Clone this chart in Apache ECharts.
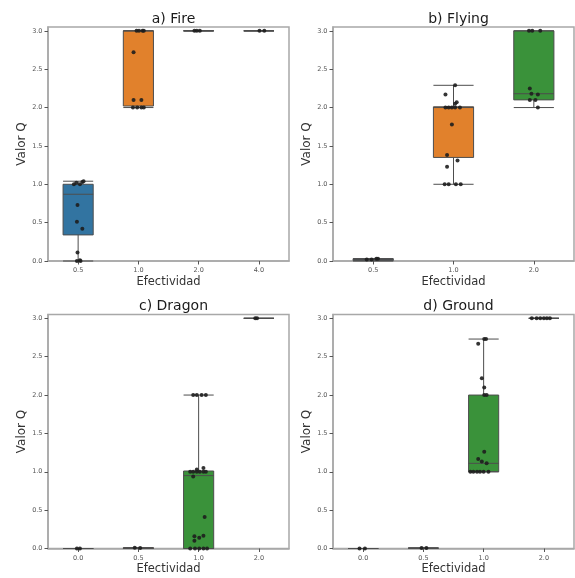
<!DOCTYPE html>
<html>
<head>
<meta charset="utf-8">
<script src="https://cdn.jsdelivr.net/npm/echarts@6/dist/echarts.min.js"></script>
<style>html,body{margin:0;padding:0;background:#fff}#c{width:575px;height:578px}</style>
</head>
<body>
<div id="c"></div>
<script>
// ---- data ----
const titles = ['a) Fire', 'b) Flying', 'c) Dragon', 'd) Ground'];
const yTicks = [0, 0.5, 1.0, 1.5, 2.0, 2.5, 3.0];

const fireCats = ['0.5', '1.0', '2.0', '4.0'];
const fireBoxes = [[0, 0.34, 0.87, 1.0, 1.04], [2.0, 2.02, 3.0, 3.0, 3.0], [3, 3, 3, 3, 3], [3, 3, 3, 3, 3]];
const fireValues = [
  [1.0, 1.0, 1.03, 1.04, 1.02, 0.73, 0.51, 0.42, 0.11, 0.01, 0.0, 0.0],
  [3.0, 3.0, 3.0, 3.0, 2.72, 2.1, 2.1, 2.0, 2.0, 2.0, 2.0],
  [3.0, 3.0, 3.0],
  [3.0, 3.0]
];
const fireJitter = [
  [-0.07, 0.03, 0.07, 0.09, -0.03, -0.01, -0.02, 0.07, -0.01, 0.03, 0.04, -0.02],
  [-0.03, 0.01, 0.07, 0.09, -0.08, -0.08, 0.05, -0.09, -0.02, 0.05, 0.09],
  [-0.07, -0.03, 0.02],
  [0.01, 0.09]
];

const flyingCats = ['0.5', '1.0', '2.0'];
const flyingBoxes = [[0, 0.005, 0.02, 0.03, 0.03], [1.0, 1.35, 2.0, 2.01, 2.29], [2.0, 2.1, 2.18, 3.0, 3.0]];
const flyingValues = [
  [0.02, 0.03, 0.03, 0.02],
  [2.29, 2.17, 2.07, 2.05, 2.0, 2.0, 2.0, 2.0, 2.0, 1.78, 1.38, 1.31, 1.23, 1.0, 1.0, 1.0, 1.0],
  [3.0, 3.0, 3.0, 2.25, 2.18, 2.17, 2.1, 2.1, 2.0]
];
const flyingJitter = [
  [-0.08, 0.04, 0.06, -0.02],
  [0.02, -0.1, 0.04, 0.02, -0.1, -0.06, -0.02, 0.02, 0.08, -0.02, -0.08, 0.05, -0.08, -0.11, -0.06, 0.03, 0.09],
  [-0.06, -0.02, 0.08, -0.05, -0.03, 0.05, -0.05, 0.02, 0.05]
];

const dragonCats = ['0.0', '0.5', '1.0', '2.0'];
const dragonBoxes = [[0, 0, 0, 0, 0], [0, 0, 0.005, 0.01, 0.01], [0, 0.0, 0.95, 1.01, 2.0], [3, 3, 3, 3, 3]];
const dragonValues = [
  [0.0, 0.0],
  [0.01, 0.005],
  [2.0, 2.0, 2.0, 2.0, 1.05, 1.03, 1.0, 1.0, 1.0, 1.0, 1.0, 1.0, 0.94, 0.41, 0.16, 0.165, 0.14, 0.10, 0.0, 0.0, 0.0, 0.0, 0.0],
  [3.0, 3.0]
];
const dragonJitter = [
  [0.03, -0.02],
  [-0.06, 0.03],
  [-0.09, -0.03, 0.05, 0.12, 0.08, -0.03, -0.14, -0.09, -0.03, 0.02, 0.08, 0.12, -0.09, 0.1, -0.07, 0.08, 0.01, -0.07, -0.14, -0.06, 0.01, 0.08, 0.14],
  [-0.06, -0.03]
];

const groundCats = ['0.0', '0.5', '1.0', '2.0'];
const groundBoxes = [[0, 0, 0, 0, 0], [0.005, 0.005, 0.005, 0.005, 0.005], [1.0, 1.0, 1.11, 2.0, 2.73], [3, 3, 3, 3, 3]];
const groundValues = [
  [0.0, 0.0],
  [0.005, 0.005],
  [2.73, 2.73, 2.67, 2.22, 2.1, 2.0, 2.0, 1.26, 1.165, 1.135, 1.11, 1.0, 1.0, 1.0, 1.0, 1.0, 1.0],
  [3.0, 3.0, 3.0, 3.0, 3.0, 3.0]
];
const groundJitter = [
  [-0.06, 0.03],
  [-0.03, 0.05],
  [0.01, 0.04, -0.09, -0.03, 0.01, 0.01, 0.05, 0.01, -0.09, -0.03, 0.05, -0.22, -0.17, -0.11, -0.06, 0, 0.08],
  [-0.2, -0.12, -0.06, 0, 0.05, 0.1]
];

// ---- chart ----
const palette = ['#3274a1', '#e1812c', '#3a923a', '#c03d3e'];
const panels = [
  { cats: fireCats, boxes: fireBoxes, vals: fireValues, jit: fireJitter },
  { cats: flyingCats, boxes: flyingBoxes, vals: flyingValues, jit: flyingJitter },
  { cats: dragonCats, boxes: dragonBoxes, vals: dragonValues, jit: dragonJitter },
  { cats: groundCats, boxes: groundBoxes, vals: groundValues, jit: groundJitter }
];
const gridPos = [
  { left: 48, top: 27, width: 241, height: 234 },
  { left: 333, top: 27, width: 241, height: 234 },
  { left: 48, top: 314.5, width: 241, height: 234 },
  { left: 333, top: 314.5, width: 241, height: 234 }
];
const FONT = 'DejaVu Sans';
const frameLine = { color: '#a8a8a8', width: 1.5 };

const option = {
  animation: false,
  backgroundColor: '#fff',
  title: [], grid: [], xAxis: [], yAxis: [], series: []
};

panels.forEach((p, i) => {
  const g = gridPos[i];
  option.title.push({
    text: titles[i], left: g.left + g.width / 2, top: g.top - 20, textAlign: 'center',
    textStyle: { fontFamily: FONT, fontSize: 14, fontWeight: 'normal', color: '#1a1a1a' }
  });
  option.grid.push({
    left: g.left, top: g.top, width: g.width, height: g.height,
    show: true, borderColor: '#a8a8a8', borderWidth: 1.5, backgroundColor: 'transparent'
  });
  option.xAxis.push({
    type: 'category', gridIndex: i, data: p.cats, boundaryGap: true, position: 'bottom',
    name: 'Efectividad', nameLocation: 'middle', nameGap: 15,
    nameTextStyle: { fontFamily: FONT, fontSize: 11.5, color: '#333' },
    axisLine: { show: true, onZero: false, lineStyle: frameLine },
    axisTick: { show: true, inside: false, alignWithLabel: true, length: 3.5, lineStyle: { color: '#555', width: 1 } },
    axisLabel: { fontFamily: FONT, fontSize: 6.5, color: '#555', margin: 6 },
    splitLine: { show: false }
  });
  option.xAxis.push({
    type: 'value', gridIndex: i, min: -0.5, max: p.cats.length - 0.5, show: false
  });
  option.yAxis.push({
    type: 'value', gridIndex: i, min: 0, max: 3.05, position: 'left',
    name: 'Valor Q', nameLocation: 'middle', nameGap: 20,
    nameTextStyle: { fontFamily: FONT, fontSize: 12, color: '#333' },
    axisLine: { show: true, onZero: false, lineStyle: frameLine },
    axisTick: { show: true, inside: false, length: 3.5, lineStyle: { color: '#555', width: 1 }, customValues: yTicks },
    axisLabel: { fontFamily: FONT, fontSize: 6.5, color: '#555', margin: 5.5,
      customValues: yTicks, formatter: v => Number(v).toFixed(1) },
    splitLine: { show: false }
  });
  option.series.push({
    type: 'boxplot', xAxisIndex: 2 * i, yAxisIndex: i,
    boxWidth: ['50%', '50%'],
    data: p.boxes.map((b, k) => ({
      value: b,
      itemStyle: { color: palette[k % palette.length], borderColor: '#4d4d4d', borderWidth: 1 }
    })),
    z: 2
  });
  const pts = [];
  p.vals.forEach((arr, k) => arr.forEach((v, j) => pts.push([k + p.jit[k][j], v])));
  option.series.push({
    type: 'scatter', xAxisIndex: 2 * i + 1, yAxisIndex: i,
    data: pts, symbolSize: 4, itemStyle: { color: '#1e1e1e', opacity: 0.9 }, z: 5
  });
});

const chart = echarts.init(document.getElementById('c'), null, { renderer: 'canvas' });
chart.setOption(option);
</script>
</body>
</html>
